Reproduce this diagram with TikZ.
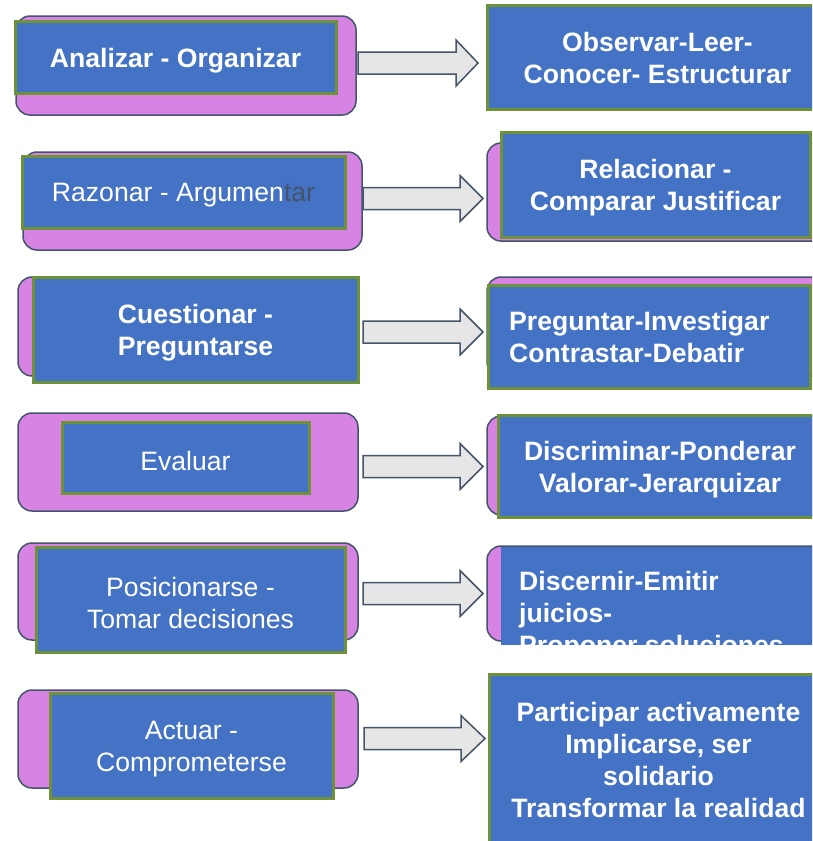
\documentclass[tikz,border=0pt]{standalone}
\usepackage{fontspec}
\setmainfont{Liberation Sans}
\definecolor{boxblue}{HTML}{4472C4}
\definecolor{pinkc}{HTML}{D683E3}
\definecolor{greenc}{HTML}{6E9238}
\definecolor{slate}{HTML}{44546A}
\definecolor{arrowfill}{HTML}{E7E6E6}
\newcommand\blockarr[4]{%
  \draw[arrowsty] (#1,#4-11) -- (#2,#4-11) -- (#2,#4-23) -- (#3,#4) -- (#2,#4+23) -- (#2,#4+11) -- (#1,#4+11) -- cycle;}
\begin{document}
\begin{tikzpicture}[x=1pt,y=-1pt,
  pinkbox/.style={rectangle, rounded corners=14pt, fill=pinkc, draw=slate, line width=1.5pt, inner sep=0pt},
  bluebox/.style={rectangle, fill=boxblue, draw=greenc, line width=3pt, inner sep=0pt},
  boldtxt/.style={font=\fontsize{26.6}{32}\selectfont\bfseries},
  regtxt/.style={font=\fontsize{26.6}{32}\selectfont},
  plaintxt/.style={text=white, inner sep=0pt, align=center},
  intext/.style={plaintxt, yshift=-3.5pt},
  arrowsty/.style={fill=arrowfill, draw=slate, line width=1.5pt, line join=miter}]
\useasboundingbox (0,0) rectangle (812,841);
\clip (0,0) rectangle (812,841);
\fill[white] (0,0) rectangle (812,841);

% Row 1
\node[pinkbox, minimum width=340, minimum height=99] (p1L) at (186,65.5) {};
\node[bluebox, minimum width=321, minimum height=72] (b1L) at (175.5,57) {};
\node[intext, boldtxt] (t1L) at (b1L) {Analizar - Organizar};
\node[bluebox, minimum width=341, minimum height=104] (b1R) at (657.5,57) {};
\node[plaintxt, boldtxt, yshift=-1pt] (t1R) at (b1R) {Observar-Leer-\\Conocer- Estructurar};
\blockarr{358}{456}{478}{63}

% Row 2
\node[pinkbox, minimum width=339, minimum height=98] (p2L) at (192.5,201) {};
\node[bluebox, minimum width=323, minimum height=72] (b2L) at (183.5,192) {};
\node[intext, regtxt] (t2L) at (b2L) {Razonar - Argumen{\color{slate}tar}};
\node[pinkbox, minimum width=343, minimum height=98] (p2R) at (658.5,192) {};
\node[bluebox, minimum width=309, minimum height=105] (b2R) at (655.5,184.5) {};
\node[intext, boldtxt] (t2R) at (b2R) {Relacionar -\\Comparar Justificar};
\blockarr{363}{460}{483}{198.5}

% Row 3
\node[pinkbox, minimum width=332, minimum height=99] (p3L) at (184,326.5) {};
\node[bluebox, minimum width=325, minimum height=105] (b3L) at (195.5,329.5) {};
\node[intext, boldtxt] (t3L) at (b3L) {Cuestionar -\\Preguntarse};
\node[pinkbox, minimum width=343, minimum height=99] (p3R) at (658.5,326.5) {};
\node[bluebox, minimum width=322, minimum height=103] (b3R) at (649,336.5) {};
\node[plaintxt, boldtxt, align=left, anchor=west] (t3R) at (509,337) {Preguntar-Investigar\\Contrastar-Debatir};
\blockarr{363}{460}{483}{332}

% Row 4
\node[pinkbox, minimum width=340, minimum height=98] (p4L) at (188,462) {};
\node[bluebox, minimum width=247, minimum height=71] (b4L) at (185.5,457.5) {};
\node[intext, regtxt] (t4L) at (b4L) {Evaluar};
\node[pinkbox, minimum width=343, minimum height=99] (p4R) at (658.5,465.5) {};
\node[bluebox, minimum width=324, minimum height=102] (b4R) at (660,466) {};
\node[intext, boldtxt] (t4R) at (b4R) {Discriminar-Ponderar\\Valorar-Jerarquizar};
\blockarr{363}{460}{483}{466.5}

% Row 5
\node[pinkbox, minimum width=340, minimum height=97] (p5L) at (188,591.5) {};
\node[bluebox, minimum width=309, minimum height=105] (b5L) at (190.5,599.5) {};
\node[intext, regtxt] (t5L) at (b5L) {Posicionarse -\\Tomar decisiones};
\node[pinkbox, minimum width=343, minimum height=95] (p5R) at (658.5,593.5) {};
\node[rectangle, fill=boxblue, inner sep=0pt, minimum width=329, minimum height=98] (b5R) at (665.5,596) {};
\begin{scope}
\clip (b5R.north west) rectangle (b5R.south east);
\node[plaintxt, boldtxt, align=left, anchor=west] (t5R) at (519,616) {Discernir-Emitir\\juicios-\\Proponer soluciones};
\end{scope}
\blockarr{363}{460}{483}{593.5}

% Row 6
\node[pinkbox, minimum width=340, minimum height=98] (p6L) at (188,739) {};
\node[bluebox, minimum width=283, minimum height=105] (b6L) at (191.5,745.5) {};
\node[intext, regtxt] (t6L) at (b6L) {Actuar -\\Comprometerse};
\node[bluebox, minimum width=339, minimum height=186] (b6R) at (658.5,767) {};
\node[plaintxt, boldtxt] (t6R) at (658.5,760) {Participar activamente\\Implicarse, ser\\solidario\\Transformar la realidad};
\blockarr{364}{461}{485}{738.5}
\end{tikzpicture}
\end{document}
